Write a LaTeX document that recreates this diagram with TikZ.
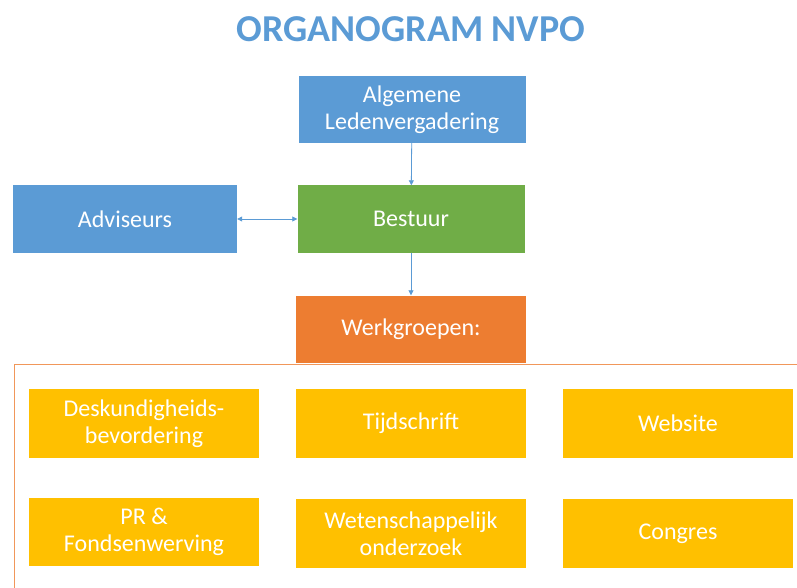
\documentclass[tikz,border=0pt]{standalone}
\usepackage{fontspec}
\setmainfont{Carlito}
\usetikzlibrary{arrows.meta}

\definecolor{blauw}{HTML}{5B9BD5}
\definecolor{groen}{HTML}{70AD47}
\definecolor{oranje}{HTML}{ED7D31}
\definecolor{geel}{HTML}{FFC000}

\tikzset{
  blok/.style={minimum width=227pt, minimum height=67pt, inner sep=0pt,
    align=center, text=white, font=\fontsize{24}{27}\selectfont},
  pijl/.style={blauw, line width=0.8pt, -{Triangle[width=5pt,length=5pt]}}
}

\begin{document}
\begin{tikzpicture}[x=1pt,y=-1pt]
\useasboundingbox (0,0) rectangle (797,588);
\node[blauw, font=\fontsize{38}{42}\selectfont\bfseries] (titel) at (411,29) {ORGANOGRAM NVPO};

% kader om de werkgroepen
\draw[oranje!80!white, line width=1pt] (800,364) -- (14.5,364) -- (14.5,590);

\node[blok, fill=blauw] (alv) at (412,109.5) {Algemene\\Ledenvergadering};
\node[blok, fill=groen] (bestuur) at (411,219) {Bestuur};
\node[blok, fill=blauw, minimum width=224pt] (adviseurs) at (125,219) {Adviseurs};
\node[blok, fill=oranje, minimum width=230pt] (werkgroepen) at (411,329) {Werkgroepen:};

\draw[pijl] (alv) -- (bestuur);
\draw[pijl] (bestuur) -- (werkgroepen);
\draw[pijl, {Triangle[width=5pt,length=5pt]}-{Triangle[width=5pt,length=5pt]}] (adviseurs) -- (bestuur);

% werkgroepen
\node[blok, fill=geel, minimum width=230pt, minimum height=69pt] (desk) at (144,423.5) {Deskundigheids-\\bevordering};
\node[blok, fill=geel, minimum width=230pt, minimum height=69pt] (tijd) at (411,423.5) {Tijdschrift};
\node[blok, fill=geel, minimum width=230pt, minimum height=69pt] (web) at (678,423.5) {Website};
\node[blok, fill=geel, minimum width=230pt, minimum height=68pt] (pr) at (144,532) {PR \& \\Fondsenwerving};
\node[blok, fill=geel, minimum width=230pt, minimum height=69pt] (onderzoek) at (411,533.5) {Wetenschappelijk\\onderzoek};
\node[blok, fill=geel, minimum width=230pt, minimum height=69pt] (congres) at (678,533.5) {Congres};
\end{tikzpicture}
\end{document}
